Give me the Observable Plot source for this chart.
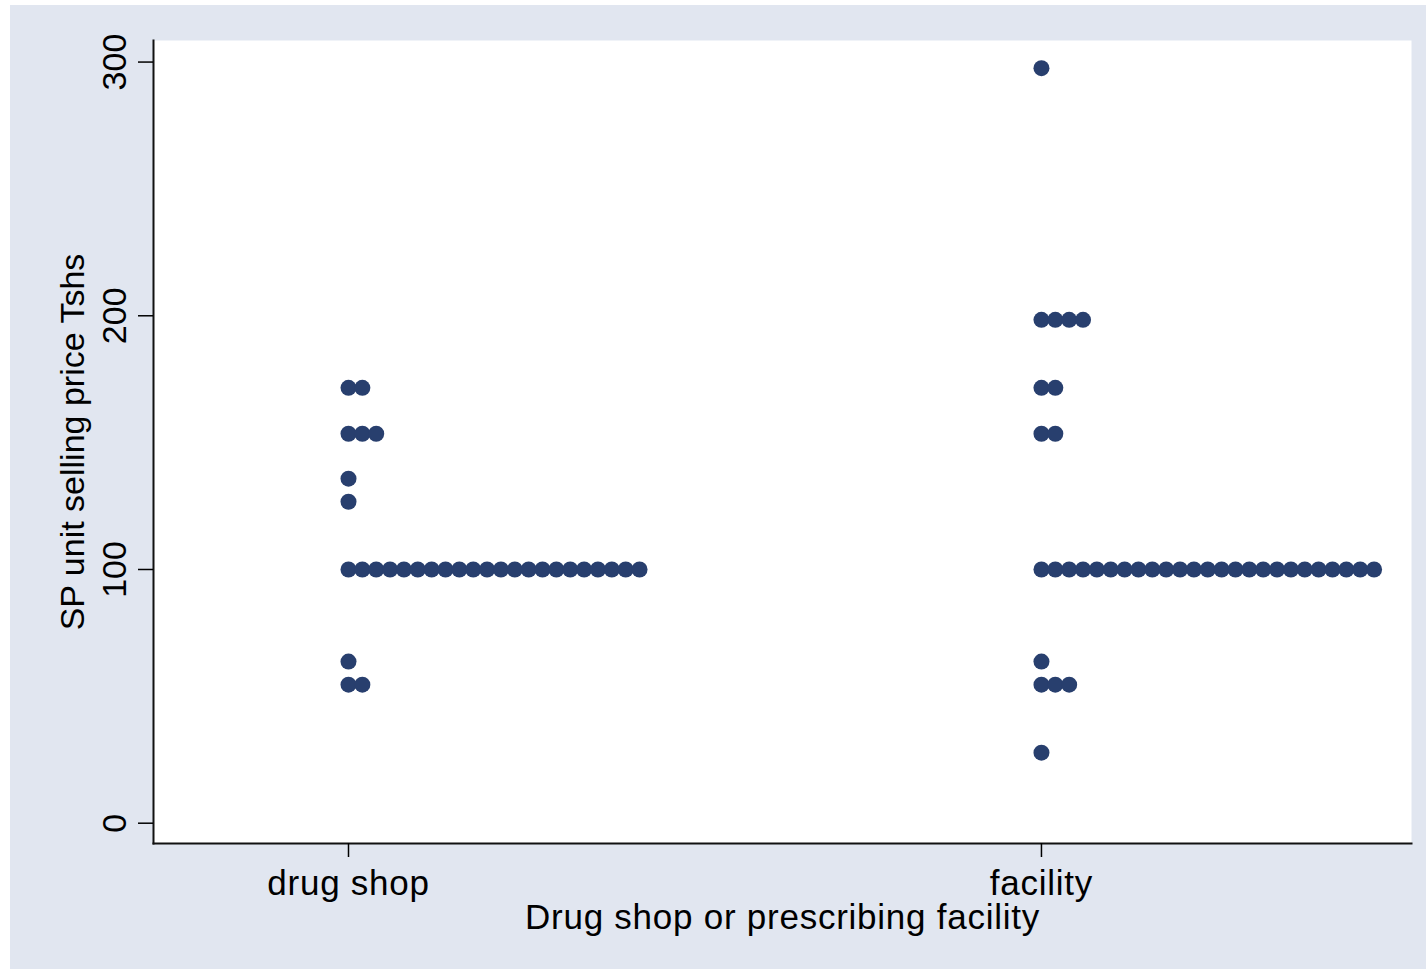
<!DOCTYPE html>
<html>
<head>
<meta charset="utf-8">
<script src="https://cdn.jsdelivr.net/npm/d3@7"></script>
<script src="https://cdn.jsdelivr.net/npm/@observablehq/plot@0.6"></script>
<style>
  html, body { margin: 0; padding: 0; background: #ffffff; }
  #chart { padding: 5px 0 0 10px; }
  #chart svg { display: block; }
  #chart g[aria-label="x-axis tick label"] text { letter-spacing: 0.75px; }
</style>
</head>
<body>
<div id="chart"></div>
<script>
// ---- data ----
const categories = ["drug shop", "facility"];
const drugShopValues = [171.6, 153.5, 135.8, 126.7, 100, 63.7, 54.6];
const drugShopCounts = [2, 3, 1, 1, 22, 1, 2];
const facilityValues = [297.6, 198.4, 171.6, 153.5, 100, 63.7, 54.6, 27.8];
const facilityCounts = [1, 4, 2, 2, 25, 1, 3, 1];
const yTicks = [0, 100, 200, 300];
const yLabel = "SP unit selling price Tshs";
const xLabel = "Drug shop or prescribing facility";

// ---- build dot table: each dot offset to the right by its rank within its value ----
const step = 0.0200; // horizontal dot spacing in category units
const groups = [
  {cat: 0, values: drugShopValues, counts: drugShopCounts},
  {cat: 1, values: facilityValues, counts: facilityCounts}
];
const dots = [];
for (const g of groups) {
  g.values.forEach((v, j) => {
    for (let k = 0; k < g.counts[j]; k++) {
      dots.push({category: categories[g.cat], x: g.cat + k * step, y: v});
    }
  });
}

const dotColor = "#283f6e";

const chart = Plot.plot({
  width: 1416,
  height: 964,
  marginLeft: 143,
  marginTop: 35,
  marginRight: 15,
  marginBottom: 126,
  style: {
    background: "#e1e6f0",
    fontFamily: "'Liberation Sans', Arial, sans-serif",
    color: "#000000",
    fontSize: "34px"
  },
  x: {domain: [-0.2814, 1.534]},
  y: {domain: [-8.0, 308.5]},
  marks: [
    Plot.frame({fill: "white", stroke: "none"}),
    Plot.frame({anchor: "left", stroke: "#111", strokeWidth: 2}),
    Plot.frame({anchor: "bottom", stroke: "#111", strokeWidth: 2}),
    Plot.axisY({
      ticks: yTicks,
      tickSize: 15,
      tickRotate: -90,
      tickPadding: 13,
      textAnchor: "middle",
      lineAnchor: "bottom",
      label: null,
      fontSize: 34,
      strokeWidth: 1.5
    }),
    Plot.axisX({
      ticks: [0, 1],
      tickFormat: (i) => categories[i],
      tickSize: 14,
      tickPadding: 13,
      label: null,
      fontSize: 35,
      strokeWidth: 1.5
    }),
    Plot.text([yLabel], {
      frameAnchor: "left",
      rotate: -90,
      dx: -80,
      lineAnchor: "middle",
      textAnchor: "middle",
      fontSize: 34,
      fill: "#000"
    }),
    Plot.text([xLabel], {
      frameAnchor: "bottom",
      dy: 85,
      lineAnchor: "bottom",
      textAnchor: "middle",
      fontSize: 35,
      fill: "#000"
    }),
    Plot.dot(dots, {x: "x", y: "y", r: 8, fill: dotColor, stroke: "none"})
  ]
});

d3.select(chart).selectAll("text")
  .filter(function () { return this.textContent === xLabel; })
  .style("letter-spacing", "0.75px");

document.getElementById("chart").appendChild(chart);
</script>
</body>
</html>
